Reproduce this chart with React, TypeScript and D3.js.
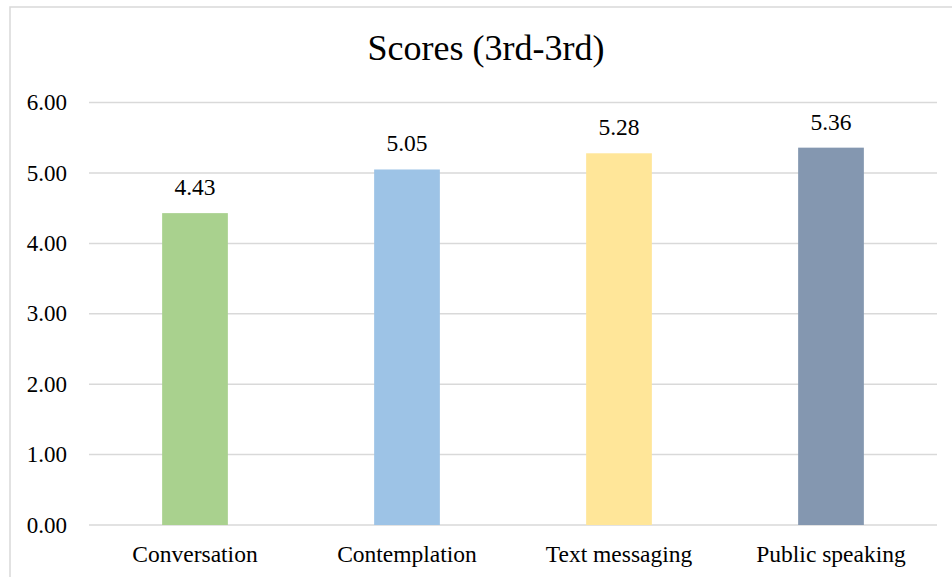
import React from 'react';
import * as d3 from 'd3';

// chart values
const categories = ['Conversation', 'Contemplation', 'Text messaging', 'Public speaking'];
const scores = [4.43, 5.05, 5.28, 5.36];
const barColors = ['#A9D18E', '#9DC3E6', '#FFE699', '#8497B0'];
const yTicks = [0, 1, 2, 3, 4, 5, 6];
const title = 'Scores (3rd-3rd)';

const width = 952;
const height = 577;
const margin = { top: 102.6, right: 15, bottom: 52, left: 89 };
const font = "'Liberation Serif', 'Tinos', 'DejaVu Serif', serif";

const App = () => {
  const innerWidth = width - margin.left - margin.right;
  const innerHeight = height - margin.top - margin.bottom;

  const x = d3.scaleBand<string>()
    .domain(categories)
    .range([0, innerWidth])
    .paddingInner(0.69)
    .paddingOuter(0.345);

  const y = d3.scaleLinear().domain([0, 6]).range([innerHeight, 0]);

  const txt = { fontFamily: font, fill: '#000' };

  return (
    <svg
      width={width}
      height={height}
      style={{ position: 'absolute', left: 0, top: 0, background: '#fff', fontFamily: font }}
    >
      {/* chart area border */}
      <rect x={10} y={7} width={width} height={height} fill="none" stroke="#d9d9d9" strokeWidth={1.5} />

      <text x={486} y={60} textAnchor="middle" style={{ ...txt, fontSize: 36 }}>
        {title}
      </text>

      <g transform={`translate(${margin.left},${margin.top})`}>
        {yTicks.map(t => (
          <g key={t}>
            <line x1={0} x2={innerWidth} y1={y(t)} y2={y(t)} stroke="#d9d9d9" strokeWidth={1.5} />
            <text x={-22} y={y(t)} dy="0.33em" textAnchor="end" style={{ ...txt, fontSize: 23 }}>
              {d3.format('.2f')(t)}
            </text>
          </g>
        ))}

        {categories.map((c, i) => (
          <g key={c}>
            <rect
              x={x(c)}
              y={y(scores[i])}
              width={x.bandwidth()}
              height={innerHeight - y(scores[i])}
              fill={barColors[i]}
            />
            <text
              x={x(c)! + x.bandwidth() / 2}
              y={y(scores[i]) - 18}
              textAnchor="middle"
              style={{ ...txt, fontSize: 23.5 }}
            >
              {d3.format('.2f')(scores[i])}
            </text>
            <text
              x={x(c)! + x.bandwidth() / 2}
              y={innerHeight + 37}
              textAnchor="middle"
              style={{ ...txt, fontSize: 23.5 }}
            >
              {c}
            </text>
          </g>
        ))}
      </g>
    </svg>
  );
};

export default App;
